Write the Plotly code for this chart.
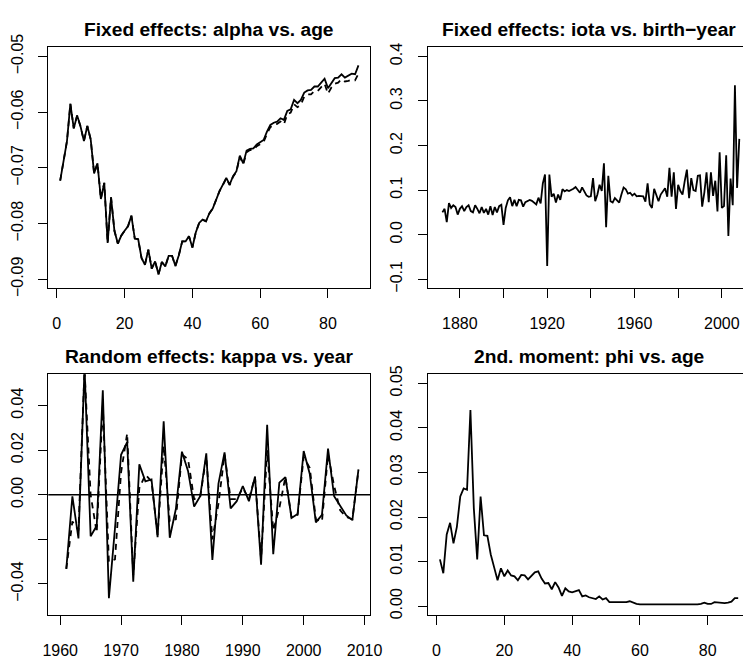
import plotly.graph_objects as go

# ---- alpha vs. age (fixed effects) ----
ages = list(range(1, 90))
alpha_fit = [
    -0.0723, -0.0684, -0.0652, -0.0585, -0.0629, -0.0606, -0.0626, -0.0652, -0.0625, -0.0649,
    -0.0710, -0.0692, -0.0756, -0.0727, -0.0835, -0.0753, -0.0813, -0.0836, -0.0822, -0.0813,
    -0.0805, -0.0786, -0.0827, -0.0828, -0.0862, -0.0874, -0.0847, -0.0881, -0.0868, -0.0891,
    -0.0869, -0.0877, -0.0858, -0.0858, -0.0876, -0.0857, -0.0832, -0.0832, -0.0823, -0.0843,
    -0.0816, -0.0799, -0.0793, -0.0796, -0.0782, -0.0773, -0.0757, -0.0742, -0.0730, -0.0718,
    -0.0730, -0.0715, -0.0706, -0.0678, -0.0692, -0.0669, -0.0666, -0.0665, -0.0658, -0.0654,
    -0.0650, -0.0635, -0.0623, -0.0619, -0.0617, -0.0611, -0.0614, -0.0598, -0.0595, -0.0578,
    -0.0584, -0.0578, -0.0565, -0.0561, -0.0560, -0.0554, -0.0554, -0.0547, -0.0540, -0.0557,
    -0.0548, -0.0539, -0.0538, -0.0532, -0.0538, -0.0534, -0.0531, -0.0532, -0.0516,
]
alpha_alt = [
    -0.0723, -0.0684, -0.0652, -0.0585, -0.0629, -0.0606, -0.0626, -0.0652, -0.0625, -0.0649,
    -0.0710, -0.0692, -0.0756, -0.0727, -0.0835, -0.0753, -0.0813, -0.0836, -0.0822, -0.0813,
    -0.0805, -0.0786, -0.0827, -0.0828, -0.0862, -0.0874, -0.0847, -0.0881, -0.0868, -0.0891,
    -0.0869, -0.0877, -0.0858, -0.0858, -0.0876, -0.0857, -0.0832, -0.0832, -0.0823, -0.0843,
    -0.0816, -0.0799, -0.0793, -0.0796, -0.0782, -0.0773, -0.0757, -0.0742, -0.0731, -0.0719,
    -0.0731, -0.0716, -0.0707, -0.0680, -0.0694, -0.0672, -0.0668, -0.0668, -0.0661, -0.0657,
    -0.0654, -0.0639, -0.0627, -0.0623, -0.0621, -0.0617, -0.0622, -0.0604, -0.0601, -0.0586,
    -0.0591, -0.0587, -0.0572, -0.0568, -0.0568, -0.0562, -0.0562, -0.0555, -0.0549, -0.0567,
    -0.0556, -0.0549, -0.0547, -0.0541, -0.0545, -0.0544, -0.0542, -0.0543, -0.0531,
]

# ---- iota vs. birth-year (fixed effects) ----
cohorts = list(range(1872, 2009))
iota = [
    0.050, 0.058, 0.028, 0.071, 0.060, 0.066, 0.062, 0.045, 0.058, 0.064,
    0.053, 0.062, 0.066, 0.053, 0.050, 0.066, 0.058, 0.048, 0.062, 0.049,
    0.058, 0.045, 0.064, 0.044, 0.062, 0.050, 0.064, 0.067, 0.022, 0.060,
    0.077, 0.084, 0.064, 0.078, 0.064, 0.078, 0.077, 0.063, 0.073, 0.075,
    0.078, 0.076, 0.072, 0.068, 0.083, 0.070, 0.115, 0.135, -0.070, 0.135,
    0.085, 0.092, 0.072, 0.090, 0.078, 0.102, 0.097, 0.100, 0.098, 0.100,
    0.103, 0.107, 0.100, 0.094, 0.106, 0.097, 0.088, 0.085, 0.086, 0.127,
    0.075, 0.090, 0.112, 0.098, 0.160, 0.017, 0.132, 0.075, 0.072, 0.082,
    0.078, 0.072, 0.090, 0.106, 0.102, 0.092, 0.094, 0.088, 0.092, 0.086,
    0.087, 0.086, 0.086, 0.074, 0.115, 0.068, 0.060, 0.103, 0.090, 0.075,
    0.090, 0.096, 0.104, 0.085, 0.150, 0.085, 0.140, 0.058, 0.112, 0.098,
    0.090, 0.120, 0.146, 0.082, 0.127, 0.100, 0.098, 0.132, 0.133, 0.063,
    0.095, 0.140, 0.073, 0.140, 0.087, 0.121, 0.052, 0.185, 0.060, 0.064,
    0.178, -0.003, 0.126, 0.066, 0.335, 0.105, 0.215,
]

# ---- kappa vs. year (random effects) ----
years = list(range(1961, 2010))
kappa_fit = [
    -0.0333, -0.0007, -0.0196, 0.0570, -0.0186, -0.0139, 0.0469, -0.0464, -0.0150, 0.0179,
    0.0236, -0.0390, 0.0136, 0.0060, 0.0069, -0.0190, 0.0329, -0.0193, -0.0064, 0.0193,
    0.0107, -0.0053, -0.0007, 0.0186, -0.0293, 0.0050, 0.0190, -0.0061, -0.0029, 0.0039,
    -0.0029, 0.0081, -0.0314, 0.0314, -0.0267, 0.0054, 0.0079, -0.0104, -0.0086, 0.0196,
    0.0093, -0.0124, -0.0090, 0.0207, -0.0007, -0.0050, -0.0093, -0.0114, 0.0114,
]
kappa_alt = [
    -0.0333, -0.0120, -0.0160, 0.0560, 0.0000, -0.0170, 0.0400, -0.0300, -0.0290, 0.0100,
    0.0275, -0.0360, 0.0030, 0.0090, 0.0060, -0.0180, 0.0220, -0.0120, -0.0110, 0.0180,
    0.0160, -0.0020, -0.0010, 0.0170, -0.0200, -0.0040, 0.0180, -0.0020, -0.0020, 0.0030,
    -0.0020, 0.0080, -0.0290, 0.0200, -0.0160, -0.0060, 0.0080, -0.0100, -0.0090, 0.0170,
    0.0120, -0.0110, -0.0120, 0.0180, 0.0040, -0.0070, -0.0100, -0.0110, 0.0110,
]

# ---- phi vs. age (2nd moment) ----
phi = [
    0.0105, 0.0074, 0.0161, 0.0187, 0.0141, 0.0178, 0.0246, 0.0264, 0.0261, 0.0440,
    0.0220, 0.0105, 0.0246, 0.0159, 0.0158, 0.0116, 0.0087, 0.0058, 0.0085, 0.0067,
    0.0080, 0.0069, 0.0067, 0.0058, 0.0070, 0.0069, 0.0060, 0.0069, 0.0076, 0.0078,
    0.0062, 0.0051, 0.0052, 0.0038, 0.0054, 0.0042, 0.0023, 0.0040, 0.0033, 0.0031,
    0.0033, 0.0036, 0.0022, 0.0024, 0.0020, 0.0018, 0.0016, 0.0022, 0.0015, 0.0018,
    0.0009, 0.0009, 0.0009, 0.0009, 0.0010, 0.0009, 0.0011, 0.0008, 0.0005, 0.0004,
    0.0004, 0.0004, 0.0004, 0.0003, 0.0003, 0.0003, 0.0003, 0.0003, 0.0003, 0.0004,
    0.0003, 0.0003, 0.0003, 0.0003, 0.0004, 0.0004, 0.0004, 0.0005, 0.0008, 0.0005,
    0.0005, 0.0009, 0.0008, 0.0007, 0.0007, 0.0008, 0.0010, 0.0018, 0.0018,
]

titles = [
    "Fixed effects: alpha vs. age",
    "Fixed effects: iota vs. birth\u2212year",
    "Random effects: kappa vs. year",
    "2nd. moment: phi vs. age",
]

W, H = 755, 663
FONT = "Liberation Sans, Arial, Helvetica, sans-serif"
LINE_W = 1.8
DASH = "6px,5px"


def px_x(p):
    return p / W


def px_y(p):
    return 1 - p / H


# plot boxes in pixels: (left, right, top, bottom)
boxes = [
    (43.3, 373.3, 34.7, 284.0),
    (432.3, 755.0, 34.7, 284.0),
    (43.3, 373.3, 373.3, 622.7),
    (432.3, 755.0, 373.3, 622.7),
]


def minus(s):
    return s.replace("-", "\u2212")


fig = go.Figure()

# solid + dashed traces per panel
fig.add_trace(go.Scatter(x=ages, y=alpha_alt, mode="lines", xaxis="x", yaxis="y",
                         line=dict(color="black", width=LINE_W, dash=DASH)))
fig.add_trace(go.Scatter(x=ages, y=alpha_fit, mode="lines", xaxis="x", yaxis="y",
                         line=dict(color="black", width=LINE_W)))
fig.add_trace(go.Scatter(x=cohorts, y=iota, mode="lines", xaxis="x2", yaxis="y2",
                         line=dict(color="black", width=LINE_W)))
fig.add_trace(go.Scatter(x=[years[0] - 5, years[-1] + 5], y=[0, 0], mode="lines",
                         xaxis="x3", yaxis="y3", line=dict(color="black", width=1.4)))
fig.add_trace(go.Scatter(x=years, y=kappa_alt, mode="lines", xaxis="x3", yaxis="y3",
                         line=dict(color="black", width=LINE_W, dash=DASH)))
fig.add_trace(go.Scatter(x=years, y=kappa_fit, mode="lines", xaxis="x3", yaxis="y3",
                         line=dict(color="black", width=LINE_W)))
fig.add_trace(go.Scatter(x=ages, y=phi, mode="lines", xaxis="x4", yaxis="y4",
                         line=dict(color="black", width=LINE_W)))

x_ranges = [[-2.52, 92.52], [1865.4, 2009.7], [1958.04, 2010.96], [-2.52, 90.42]]
y_ranges = [[-0.0916, -0.0484], [-0.12, 0.42], [-0.054, 0.054], [-0.002, 0.052]]

x_ticks = [
    ([0, 20, 40, 60, 80], ["0", "20", "40", "60", "80"]),
    ([1880, 1900, 1920, 1940, 1960, 1980, 2000],
     ["1880", "", "1920", "", "1960", "", "2000"]),
    ([1960, 1970, 1980, 1990, 2000, 2010],
     ["1960", "1970", "1980", "1990", "2000", "2010"]),
    ([0, 20, 40, 60, 80], ["0", "20", "40", "60", "80"]),
]
y_ticks = [
    ([-0.09, -0.08, -0.07, -0.06, -0.05],
     ["-0.09", "-0.08", "-0.07", "-0.06", "-0.05"]),
    ([-0.1, 0.0, 0.1, 0.2, 0.3, 0.4], ["-0.1", "0.0", "0.1", "0.2", "0.3", "0.4"]),
    ([-0.04, -0.02, 0.0, 0.02, 0.04], ["-0.04", "", "0.00", "0.02", "0.04"]),
    ([0.0, 0.01, 0.02, 0.03, 0.04, 0.05],
     ["0.00", "0.01", "0.02", "0.03", "0.04", "0.05"]),
]

axis_common = dict(
    showgrid=False, zeroline=False, showline=True, linecolor="black", linewidth=1.3,
    ticks="outside", ticklen=9, tickwidth=1.3, tickcolor="black",
    tickfont=dict(family=FONT, size=16, color="black"),
    fixedrange=True,
)

layout = dict(
    width=W, height=H, margin=dict(l=0, r=0, t=0, b=0),
    paper_bgcolor="white", plot_bgcolor="white", showlegend=False,
    font=dict(family=FONT, color="black"),
)
annotations = []
for i, (l, r, t, b) in enumerate(boxes):
    sfx = "" if i == 0 else str(i + 1)
    full_box = r < W - 1
    layout["xaxis" + sfx] = dict(
        axis_common, domain=[px_x(l), px_x(r)], range=x_ranges[i],
        anchor="y" + sfx, mirror=True, ticklabelstandoff=12,
        tickvals=x_ticks[i][0], ticktext=x_ticks[i][1],
    )
    layout["yaxis" + sfx] = dict(
        axis_common, domain=[px_y(b), px_y(t)], range=y_ranges[i],
        anchor="x" + sfx, mirror=full_box, tickangle=-90, ticklabelstandoff=9,
        tickvals=y_ticks[i][0], ticktext=[minus(s) for s in y_ticks[i][1]],
    )
    # each plot region is 330 px wide; the title is centred on it
    cx = l + 165
    ty = t - 18.5
    annotations.append(dict(
        text="<b>" + titles[i] + "</b>", x=px_x(cx), y=px_y(ty), xref="paper", yref="paper",
        xanchor="center", yanchor="middle", showarrow=False,
        font=dict(family=FONT, size=19.2, color="black"),
    ))
layout["annotations"] = annotations

fig.update_layout(**layout)
fig.write_html("out.html")
